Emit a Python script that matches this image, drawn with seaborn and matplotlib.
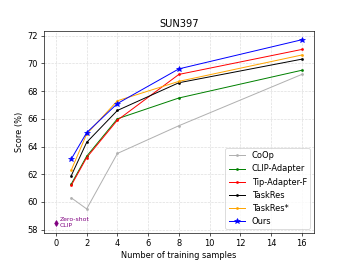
import pandas as pd
import matplotlib
matplotlib.use("Agg")
import matplotlib.pyplot as plt
import seaborn as sns

# data
shots = [1, 2, 4, 8, 16]
coop = [60.3, 59.5, 63.5, 65.5, 69.2]
clip_adapter = [61.3, 63.3, 66.0, 67.5, 69.5]
tip_adapter_f = [61.2, 63.2, 65.9, 69.2, 71.0]
taskres = [61.9, 64.3, 66.6, 68.6, 70.3]
taskres_star = [62.3, 64.9, 67.3, 68.7, 70.6]
ours = [63.1, 65.0, 67.1, 69.6, 71.7]
zero_shot = 58.5

series = [
    ("CoOp", coop, "#b0b0b0", "."),
    ("CLIP-Adapter", clip_adapter, "green", "."),
    ("Tip-Adapter-F", tip_adapter_f, "red", "."),
    ("TaskRes", taskres, "black", "."),
    ("TaskRes*", taskres_star, "orange", "."),
    ("Ours", ours, "blue", "*"),
]

DPI = 59
fig, ax = plt.subplots(figsize=(349 / DPI, 262 / DPI), dpi=DPI)

for name, vals, color, marker in series:
    df = pd.DataFrame({"shots": shots, "score": vals})
    sns.lineplot(data=df, x="shots", y="score", ax=ax, color=color,
                 marker=marker, markersize=7 if marker == "*" else 5,
                 markeredgecolor=color, linewidth=1.2, label=name)

ax.plot([0], [zero_shot], marker="d", color="purple", markersize=5, linestyle="none")
ax.text(0.25, zero_shot, "Zero-shot\nCLIP", color="purple", fontsize=7.5,
        va="center", ha="left")

ax.set_xticks([0, 2, 4, 6, 8, 10, 12, 14, 16])
ax.set_yticks([58, 60, 62, 64, 66, 68, 70, 72])
ax.set_xlim(-0.8, 16.8)
ax.set_ylim(57.75, 72.3)
ax.grid(True, linestyle="--", color="#dddddd", linewidth=0.8)
ax.set_title("SUN397")
ax.set_xlabel("Number of training samples")
ax.set_ylabel("Score (%)")
ax.legend(loc="lower right")

plt.savefig("out.png", dpi=DPI)
